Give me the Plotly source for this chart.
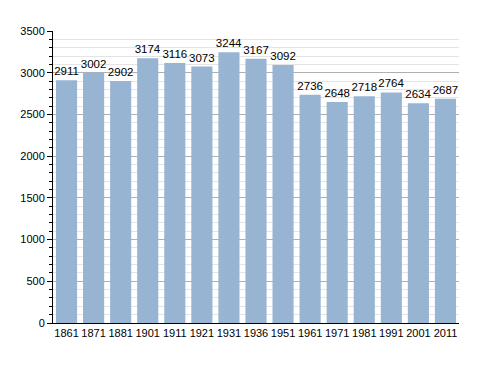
import plotly.graph_objects as go

years = ["1861", "1871", "1881", "1901", "1911", "1921", "1931", "1936", "1951",
         "1961", "1971", "1981", "1991", "2001", "2011"]
population = [2911, 3002, 2902, 3174, 3116, 3073, 3244, 3167, 3092,
              2736, 2648, 2718, 2764, 2634, 2687]
y_ticks = [0, 500, 1000, 1500, 2000, 2500, 3000, 3500]

fig = go.Figure(go.Bar(
    x=years, y=population,
    marker=dict(color="#97b4d2", line=dict(width=0)),
    text=[str(v) for v in population],
    textposition="outside",
    constraintext="none",
    textfont=dict(family="Liberation Sans, Arial", size=11.5, color="black"),
    cliponaxis=False,
    width=0.78,
))

fig.update_layout(
    width=488, height=373,
    margin=dict(l=42, r=37, t=23, b=58),
    paper_bgcolor="white", plot_bgcolor="white",
    font=dict(family="Liberation Sans, Arial", size=11, color="black"),
    showlegend=False,
    xaxis=dict(
        type="category", showline=True, linecolor="black", linewidth=1,
        ticks="", showgrid=False, tickfont=dict(size=11),
    ),
    yaxis=dict(
        range=[0, 3500], tickvals=y_ticks, showline=True, linecolor="black",
        linewidth=1, ticks="outside", ticklen=5, tickcolor="black",
        showgrid=True, gridcolor="#b0b0b0", gridwidth=1, zeroline=False,
        tickfont=dict(size=11),
        minor=dict(dtick=100, showgrid=True, gridcolor="#e4e4e4",
                   ticks="outside", ticklen=3, tickcolor="black"),
    ),
)

fig.write_html("out.html")
